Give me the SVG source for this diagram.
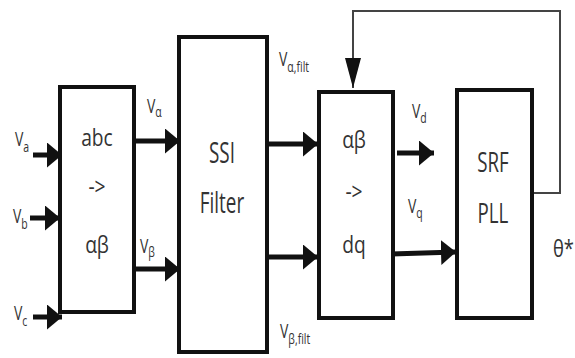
<svg xmlns="http://www.w3.org/2000/svg" width="575" height="358" viewBox="0 0 575 358">
<defs>
<marker id="ah" markerUnits="userSpaceOnUse" markerWidth="15" markerHeight="25" refX="15" refY="12.5" orient="auto" viewBox="0 0 15 25">
<path d="M0,0 L15,12.5 L0,25 z" fill="#111"/>
</marker>
<marker id="ahs" markerUnits="userSpaceOnUse" markerWidth="30" markerHeight="16" refX="30" refY="8" orient="auto" viewBox="0 0 30 16">
<path d="M0,0 L30,8 L0,16 z" fill="#111"/>
</marker>
</defs>
<style>
.blk{fill:#fff;stroke:#111;stroke-width:4}
.ln{stroke:#111;stroke-width:5;fill:none}
.fb{stroke:#444;stroke-width:2;fill:none}
.t{font-family:"Open Sans","DejaVu Sans",sans-serif;fill:#333;font-size:24px;text-anchor:middle}
.l{font-family:"Open Sans","DejaVu Sans",sans-serif;fill:#333;font-size:20px}
.s{font-size:15px}
</style>
<rect width="575" height="358" fill="#fff"/>
<g id="connectors">
<line class="ln" x1="33" y1="155" x2="62" y2="155" marker-end="url(#ah)"/>
<line class="ln" x1="30" y1="218" x2="60" y2="218" marker-end="url(#ah)"/>
<line class="ln" x1="33" y1="317" x2="62" y2="317" marker-end="url(#ah)"/>
<line class="ln" x1="134" y1="141" x2="180" y2="141" marker-end="url(#ah)"/>
<line class="ln" x1="134" y1="269" x2="180" y2="269" marker-end="url(#ah)"/>
<line class="ln" x1="267" y1="144" x2="318" y2="144" marker-end="url(#ah)"/>
<line class="ln" x1="267" y1="257" x2="318" y2="257" marker-end="url(#ah)"/>
<line class="ln" x1="397" y1="153" x2="434" y2="153" marker-end="url(#ah)"/>
<line class="ln" x1="391" y1="254" x2="456" y2="252" marker-end="url(#ah)"/>
<polyline class="fb" points="532,193 560,193 560,11 353,11"/>
<line class="fb" x1="353" y1="10" x2="353" y2="88" marker-end="url(#ahs)"/>
</g>
<g id="abc">
<rect class="blk" x="60" y="87" width="74" height="225"/>
<text class="t" transform="translate(97,146) scale(0.8,1)">abc</text>
<text class="t" transform="translate(97,195) scale(0.8,1)">-&gt;</text>
<text class="t" transform="translate(97,253) scale(0.8,1)">αβ</text>
</g>
<g id="ssi">
<rect class="blk" x="179" y="37" width="88" height="315"/>
<text class="t" transform="translate(222,163) scale(0.7,1.05)" style="font-size:27px">SSI</text>
<text class="t" transform="translate(222,213) scale(0.7,1.05)" style="font-size:27px">Filter</text>
</g>
<g id="abdq">
<rect class="blk" x="319" y="92" width="74" height="226"/>
<text class="t" transform="translate(354,148) scale(0.8,1)">αβ</text>
<text class="t" transform="translate(354,200) scale(0.8,1)">-&gt;</text>
<text class="t" transform="translate(354,253) scale(0.8,1)">dq</text>
</g>
<g id="pll">
<rect class="blk" x="457" y="90" width="75" height="228"/>
<text class="t" transform="translate(493,172) scale(0.72,1.05)" style="font-size:26px">SRF</text>
<text class="t" transform="translate(493,223) scale(0.72,1.05)" style="font-size:26px">PLL</text>
</g>
<g id="labels">
<text class="l" transform="translate(15,146) scale(0.7,1)">V<tspan class="s" dy="6">a</tspan></text>
<text class="l" transform="translate(13,223) scale(0.7,1)">V<tspan class="s" dy="6">b</tspan></text>
<text class="l" transform="translate(14,320) scale(0.7,1)">V<tspan class="s" dy="6">c</tspan></text>
<text class="l" transform="translate(147,113) scale(0.7,1)">V<tspan class="s" dy="4">α</tspan></text>
<text class="l" transform="translate(140,253) scale(0.7,1)">V<tspan class="s" dy="4">β</tspan></text>
<text class="l" transform="translate(279,66) scale(0.7,1)">V<tspan class="s" dy="6">α,filt</tspan></text>
<text class="l" transform="translate(280,338) scale(0.7,1)">V<tspan class="s" dy="6">β,filt</tspan></text>
<text class="l" transform="translate(412,118) scale(0.7,1)">V<tspan class="s" dy="5">d</tspan></text>
<text class="l" transform="translate(408,213) scale(0.7,1)">V<tspan class="s" dy="5">q</tspan></text>
<text class="l" transform="translate(553,257) scale(0.8,1)" style="font-size:23px">θ*</text>
</g>
</svg>
